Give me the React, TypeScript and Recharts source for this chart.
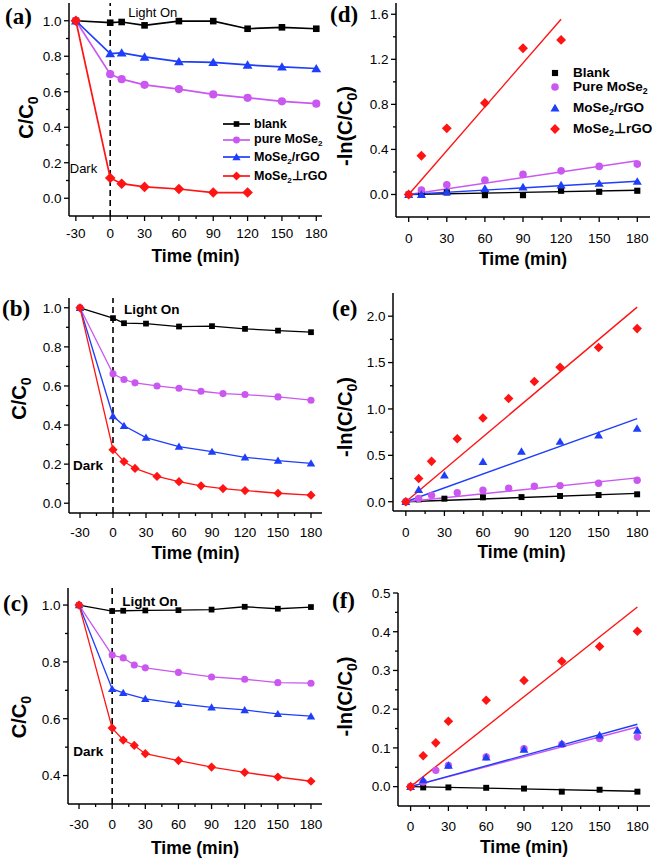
import React from "react";
import {
    ComposedChart,
    Line,
    Scatter,
    XAxis,
    YAxis,
    ReferenceLine,
    Legend
} from "recharts";

const FONT = "'Liberation Sans', Arial, Helvetica, sans-serif";
const SERIF = "'Liberation Serif', 'Times New Roman', serif";

const BLACK = "#000000";
const PURPLE = "#CA58F0";
const BLUE = "#1E3EFA";
const RED = "#FF1414";

type Shape = "square" | "circle" | "triangle" | "diamond";

const seriesColors = [BLACK, PURPLE, BLUE, RED];
const seriesShapes: Shape[] = ["square", "circle", "triangle", "diamond"];
const decayNames = ["blank", "pure MoSe_2", "MoSe_2/rGO", "MoSe_2\u22A5rGO"];
const rateNames = ["Blank", "Pure MoSe_2", "MoSe_2/rGO", "MoSe_2\u22A5rGO"];

// axis ticks
const decayXTicks = [-30, -15, 0, 15, 30, 45, 60, 75, 90, 105, 120, 135, 150, 165, 180];
const decayXMajor = [-30, 0, 30, 60, 90, 120, 150, 180];
const rateXTicks = [0, 15, 30, 45, 60, 75, 90, 105, 120, 135, 150, 165, 180];
const rateXMajor = [0, 30, 60, 90, 120, 150, 180];
const abYTicks = [0, 0.1, 0.2, 0.3, 0.4, 0.5, 0.6, 0.7, 0.8, 0.9, 1.0];
const abYMajor = [0, 0.2, 0.4, 0.6, 0.8, 1.0];
const cYTicks = [0.4, 0.5, 0.6, 0.7, 0.8, 0.9, 1.0];
const cYMajor = [0.4, 0.6, 0.8, 1.0];
const dYTicks = [0, 0.2, 0.4, 0.6, 0.8, 1.0, 1.2, 1.4, 1.6];
const dYMajor = [0, 0.4, 0.8, 1.2, 1.6];
const eYTicks = [0, 0.25, 0.5, 0.75, 1.0, 1.25, 1.5, 1.75, 2.0];
const eYMajor = [0, 0.5, 1.0, 1.5, 2.0];
const fYTicks = [0, 0.05, 0.1, 0.15, 0.2, 0.25, 0.3, 0.35, 0.4, 0.45, 0.5];
const fYMajor = [0, 0.1, 0.2, 0.3, 0.4, 0.5];

// (a) C/C0
const aTime = [-30, 0, 10, 30, 60, 90, 120, 150, 180];
const aTimeMix = [-30, 0, 10, 30, 60, 90, 120];
const aBlank = [1.0, 0.989, 0.993, 0.974, 0.998, 0.998, 0.955, 0.963, 0.955];
const aPure = [1.0, 0.699, 0.671, 0.639, 0.615, 0.585, 0.566, 0.546, 0.533];
const aRgo = [1.0, 0.815, 0.819, 0.796, 0.77, 0.766, 0.751, 0.74, 0.731];
const aMix = [1.0, 0.114, 0.082, 0.064, 0.052, 0.032, 0.032];

// (b) C/C0
const bTime = [-30, 0, 10, 30, 60, 90, 120, 150, 180];
const bTimeDense = [-30, 0, 10, 20, 40, 60, 80, 100, 120, 150, 180];
const bBlank = [1.0, 0.947, 0.921, 0.919, 0.904, 0.906, 0.892, 0.883, 0.875];
const bPure = [1.0, 0.662, 0.633, 0.616, 0.6, 0.588, 0.573, 0.561, 0.556, 0.544, 0.527];
const bRgo = [1.0, 0.446, 0.396, 0.336, 0.29, 0.264, 0.235, 0.218, 0.204];
const bMix = [1.0, 0.274, 0.213, 0.178, 0.137, 0.11, 0.089, 0.075, 0.065, 0.051, 0.041];

// (c) C/C0
const cTime = [-30, 0, 10, 30, 60, 90, 120, 150, 180];
const cTimeDense = [-30, 0, 10, 20, 30, 60, 90, 120, 150, 180];
const cBlank = [1.0, 0.979, 0.98, 0.981, 0.982, 0.984, 0.994, 0.987, 0.993];
const cPure = [1.0, 0.824, 0.814, 0.789, 0.779, 0.763, 0.747, 0.739, 0.727, 0.725];
const cRgo = [1.0, 0.705, 0.691, 0.67, 0.653, 0.64, 0.631, 0.617, 0.609];
const cMix = [1.0, 0.567, 0.525, 0.506, 0.477, 0.453, 0.43, 0.411, 0.395, 0.38];

// (d) -ln(C/C0)
const dTime = [0, 10, 30, 60, 90, 120, 150, 180];
const dTimeMix = [0, 10, 30, 60, 90, 120];
const dBlank = [0, 0.0, 0.018, -0.006, -0.006, 0.033, 0.024, 0.033];
const dPure = [0, 0.039, 0.086, 0.127, 0.178, 0.21, 0.249, 0.27];
const dRgo = [0, 0.0, 0.024, 0.053, 0.065, 0.083, 0.098, 0.116];
const dMix = [0, 0.344, 0.587, 0.812, 1.298, 1.372];
const dFitTime = [0, 180];
const dFitTimeMix = [0, 120];
const dFitBlank = [0, 0.038];
const dFitPure = [0, 0.3];
const dFitRgo = [0, 0.118];
const dFitMix = [0, 1.556];

// (e) -ln(C/C0)
const eTime = [0, 10, 30, 60, 90, 120, 150, 180];
const eTimeDense = [0, 10, 20, 40, 60, 80, 100, 120, 150, 180];
const eBlank = [0, 0.025, 0.033, 0.047, 0.05, 0.062, 0.072, 0.08];
const ePure = [0, 0.036, 0.069, 0.098, 0.123, 0.145, 0.167, 0.174, 0.199, 0.232];
const eRgo = [0, 0.13, 0.286, 0.431, 0.543, 0.649, 0.717, 0.79];
const eMix = [0, 0.25, 0.435, 0.678, 0.902, 1.112, 1.297, 1.449, 1.663, 1.866];
const eFitTime = [0, 180];
const eFitBlank = [0, 0.09];
const eFitPure = [0, 0.257];
const eFitRgo = [0, 0.895];
const eFitMix = [0, 2.098];

// (f) -ln(C/C0)
const fTime = [0, 10, 30, 60, 90, 120, 150, 180];
const fTimeDense = [0, 10, 20, 30, 60, 90, 120, 150, 180];
const fBlank = [0, -0.002, -0.002, -0.003, -0.005, -0.013, -0.008, -0.013];
const fPure = [0, 0.012, 0.042, 0.055, 0.077, 0.098, 0.109, 0.124, 0.128];
const fRgo = [0, 0.017, 0.055, 0.076, 0.096, 0.111, 0.133, 0.145];
const fMix = [0, 0.08, 0.113, 0.169, 0.223, 0.274, 0.324, 0.362, 0.401];
const fFitTime = [0, 180];
const fFitBlank = [0, -0.012];
const fFitPure = [0, 0.154];
const fFitRgo = [0, 0.161];
const fFitMix = [0, 0.464];

type Pt = { t: number; v: number };
type Series = { shape: Shape; color: string; data: Pt[] };

const pts = (t: number[], v: number[]): Pt[] =>
    t.map((x, i) => ({ t: x, v: v[i] }));

const mk = (idx: number, t: number[], v: number[]): Series => ({
    shape: seriesShapes[idx],
    color: seriesColors[idx],
    data: pts(t, v)
});

const isMajor = (v: number, majors: number[]) =>
    majors.some((m) => Math.abs(m - v) < 1e-9);

function Marker({ shape, cx, cy, color, k }: { shape: Shape; cx: number; cy: number; color: string; k: number }) {
    if (cx == null || cy == null) return null;
    if (shape === "square") {
        const s = 6.6 * k;
        return <rect x={cx - s / 2} y={cy - s / 2} width={s} height={s} fill={color} />;
    }
    if (shape === "circle") {
        return <circle cx={cx} cy={cy} r={4.1 * k} fill={color} />;
    }
    if (shape === "triangle") {
        const w = 4.9 * k;
        const h = 4.6 * k;
        return (
            <polygon
                points={`${cx},${cy - h} ${cx + w},${cy + h * 0.8} ${cx - w},${cy + h * 0.8}`}
                fill={color}
            />
        );
    }
    const d = 5.3 * k;
    return (
        <polygon
            points={`${cx},${cy - d} ${cx + d},${cy} ${cx},${cy + d} ${cx - d},${cy}`}
            fill={color}
        />
    );
}

function NameText({ name }: { name: string }) {
    const parts = name.split("_2");
    return (
        <>
            {parts.map((p, i) => (
                <React.Fragment key={i}>
                    {p}
                    {i < parts.length - 1 && (
                        <span style={{ fontSize: "0.65em", position: "relative", top: "0.35em" }}>2</span>
                    )}
                </React.Fragment>
            ))}
        </>
    );
}

type LegendSpec = {
    left: number;
    top: number;
    names: string[];
    withLine: boolean;
    fontSize: number;
    rowH: number;
    rowOffsets: number[];
    k: number;
};

function LegendBox({ spec }: { spec: LegendSpec }) {
    const sw = spec.withLine ? 27 : 12;
    const last = spec.rowOffsets[spec.rowOffsets.length - 1];
    return (
        <div
            style={{
                position: "relative",
                width: 120,
                height: last + spec.rowH,
                fontFamily: FONT,
                fontWeight: "bold",
                fontSize: spec.fontSize,
                color: "#000"
            }}
        >
            {spec.names.map((n, i) => (
                <div
                    key={n}
                    style={{
                        position: "absolute",
                        left: 0,
                        top: spec.rowOffsets[i],
                        display: "flex",
                        alignItems: "center",
                        height: spec.rowH
                    }}
                >
                    <svg width={sw} height={spec.rowH} style={{ flex: "none" }}>
                        {spec.withLine && (
                            <line
                                x1={0}
                                x2={sw}
                                y1={spec.rowH / 2}
                                y2={spec.rowH / 2}
                                stroke={seriesColors[i]}
                                strokeWidth={1.7}
                            />
                        )}
                        <Marker
                            shape={seriesShapes[i]}
                            cx={sw / 2}
                            cy={spec.rowH / 2}
                            color={seriesColors[i]}
                            k={spec.k}
                        />
                    </svg>
                    <span style={{ marginLeft: spec.withLine ? 4 : 12, lineHeight: 1, whiteSpace: "nowrap" }}>
                        <NameText name={n} />
                    </span>
                </div>
            ))}
        </div>
    );
}

type Marks = {
    bold: boolean;
    size: number;
    lightDx: number;
    lightDy: number;
    darkDx: number;
    darkDy: number;
};

type PanelProps = {
    box: { left: number; top: number; width: number; height: number };
    plot: { l: number; t: number; r: number; b: number };
    xDomain: number[];
    yDomain: number[];
    xTicks: number[];
    xMajor: number[];
    yTicks: number[];
    yMajor: number[];
    yDigits: number;
    lines?: Series[];
    points?: Series[];
    fits?: { color: string; data: Pt[] }[];
    k: number;
    lineW: number;
    yTitle: "C" | "ln";
    letter: string;
    letterDx: number;
    letterDy: number;
    xLabelDy: number;
    xTitleDy: number;
    yTitleDx: number;
    yTitleDy: number;
    marks?: Marks;
    legend?: LegendSpec;
};

function Panel(p: PanelProps) {
    const { box, plot } = p;
    const mt = plot.t - box.top;
    const yw = plot.l - box.left;
    const mr = box.left + box.width - plot.r;
    const xh = box.top + box.height - plot.b;
    const plotW = plot.r - plot.l;
    const plotH = plot.b - plot.t;
    const frame = { stroke: "#000", strokeWidth: 1.5 };

    const xTick = (tp: any) => {
        const v = tp.payload.value;
        const major = isMajor(v, p.xMajor);
        return (
            <g>
                <line x1={tp.x} x2={tp.x} y1={tp.y} y2={tp.y + (major ? 5 : 3)} stroke="#000" strokeWidth={1.3} />
                {major && (
                    <text
                        x={tp.x}
                        y={tp.y + p.xLabelDy}
                        dy="0.36em"
                        textAnchor="middle"
                        fontFamily={FONT}
                        fontSize={13.5}
                        fill="#000"
                    >
                        {String(v)}
                    </text>
                )}
            </g>
        );
    };

    const yTick = (tp: any) => {
        const v = tp.payload.value;
        const major = isMajor(v, p.yMajor);
        return (
            <g>
                <line x1={tp.x} x2={tp.x - (major ? 5 : 3)} y1={tp.y} y2={tp.y} stroke="#000" strokeWidth={1.3} />
                {major && (
                    <text
                        x={tp.x - 7.5}
                        y={tp.y}
                        dy="0.36em"
                        textAnchor="end"
                        fontFamily={FONT}
                        fontSize={13.5}
                        fill="#000"
                    >
                        {v.toFixed(p.yDigits)}
                    </text>
                )}
            </g>
        );
    };

    const xTitle = () => (
        <text
            x={yw + plotW / 2}
            y={mt + plotH + p.xTitleDy}
            dy="0.36em"
            textAnchor="middle"
            fontFamily={FONT}
            fontWeight="bold"
            fontSize={17.5}
            fill="#000"
        >
            Time (min)
        </text>
    );

    const yTitle = () => {
        const cx = yw + p.yTitleDx;
        const cy = mt + plotH / 2 + p.yTitleDy;
        return (
            <g>
                <text
                    x={cx}
                    y={cy}
                    dy="0.36em"
                    transform={`rotate(-90 ${cx} ${cy})`}
                    textAnchor="middle"
                    fontFamily={FONT}
                    fontWeight="bold"
                    fontSize={20}
                    fill="#000"
                >
                    {p.yTitle === "C" ? "C/C" : "-ln(C/C"}
                    <tspan fontSize={14} dy="5">0</tspan>
                    {p.yTitle === "ln" && <tspan dy="-5">)</tspan>}
                </text>
                <text
                    x={yw + p.letterDx}
                    y={mt + p.letterDy}
                    dy="0.34em"
                    fontFamily={SERIF}
                    fontWeight="bold"
                    fontSize={23}
                    fill="#000"
                >
                    {`(${p.letter})`}
                </text>
            </g>
        );
    };

    const marks = p.marks;
    const markLabel = (lp: any) => {
        if (!marks) return null;
        const lx = lp.viewBox ? lp.viewBox.x : 0;
        const style = {
            fontFamily: FONT,
            fontSize: marks.size,
            fontWeight: marks.bold ? "bold" : "normal",
            fill: "#000"
        } as const;
        return (
            <g>
                <text x={lx + marks.lightDx} y={mt + marks.lightDy} dy="0.36em" textAnchor="start" {...style}>
                    Light On
                </text>
                <text x={lx + marks.darkDx} y={mt + marks.darkDy} dy="0.36em" textAnchor="end" {...style}>
                    Dark
                </text>
            </g>
        );
    };

    return (
        <div style={{ position: "absolute", left: box.left, top: box.top }}>
            <ComposedChart
                width={box.width}
                height={box.height}
                margin={{ top: mt, right: mr, left: 0, bottom: 0 }}
            >
                <XAxis
                    dataKey="t"
                    type="number"
                    domain={p.xDomain}
                    ticks={p.xTicks}
                    interval={0}
                    allowDataOverflow
                    height={xh}
                    tickSize={0}
                    tickMargin={0}
                    tickLine={false}
                    tick={xTick}
                    axisLine={frame}
                    label={xTitle}
                />
                <XAxis
                    xAxisId="top"
                    orientation="top"
                    type="number"
                    domain={p.xDomain}
                    height={0}
                    tick={false}
                    tickLine={false}
                    axisLine={frame}
                />
                <YAxis
                    dataKey="v"
                    type="number"
                    domain={p.yDomain}
                    ticks={p.yTicks}
                    interval={0}
                    allowDataOverflow
                    width={yw}
                    tickSize={0}
                    tickMargin={0}
                    tickLine={false}
                    tick={yTick}
                    axisLine={frame}
                    label={yTitle}
                />
                <YAxis
                    yAxisId="right"
                    orientation="right"
                    type="number"
                    domain={p.yDomain}
                    width={0}
                    tick={false}
                    tickLine={false}
                    axisLine={frame}
                />
                {marks && (
                    <ReferenceLine
                        x={0}
                        stroke="#000"
                        strokeWidth={1.6}
                        strokeDasharray="6 4"
                        label={markLabel}
                    />
                )}
                {(p.lines || []).map((s, i) => (
                    <Line
                        key={`l${i}`}
                        data={s.data}
                        dataKey="v"
                        type="linear"
                        stroke={s.color}
                        strokeWidth={p.lineW}
                        dot={(dp: any) => (
                            <Marker
                                key={`m${i}-${dp.index}`}
                                shape={s.shape}
                                cx={dp.cx}
                                cy={dp.cy}
                                color={s.color}
                                k={p.k}
                            />
                        )}
                        activeDot={false}
                        isAnimationActive={false}
                    />
                ))}
                {(p.fits || []).map((f, i) => (
                    <Line
                        key={`f${i}`}
                        data={f.data}
                        dataKey="v"
                        type="linear"
                        stroke={f.color}
                        strokeWidth={1.4}
                        dot={false}
                        activeDot={false}
                        isAnimationActive={false}
                    />
                ))}
                {(p.points || []).map((s, i) => (
                    <Scatter
                        key={`s${i}`}
                        data={s.data}
                        fill={s.color}
                        shape={(sp: any) => (
                            <Marker shape={s.shape} cx={sp.cx} cy={sp.cy} color={s.color} k={p.k} />
                        )}
                        isAnimationActive={false}
                    />
                ))}
                {p.legend && (
                    <Legend
                        layout="vertical"
                        align="center"
                        verticalAlign="middle"
                        wrapperStyle={{ left: p.legend.left, top: p.legend.top, width: "auto", height: "auto" }}
                        content={() => <LegendBox spec={p.legend as LegendSpec} />}
                    />
                )}
            </ComposedChart>
        </div>
    );
}

export default function App() {
    return (
        <div
            style={{
                position: "absolute",
                left: 0,
                top: 0,
                width: 653,
                height: 861,
                background: "#ffffff",
                overflow: "hidden"
            }}
        >
            <Panel
                box={{ left: 0, top: 0, width: 330, height: 285 }}
                plot={{ l: 69, t: 3, r: 322, b: 216 }}
                xDomain={[-36, 185]}
                yDomain={[-0.1, 1.1]}
                xTicks={decayXTicks}
                xMajor={decayXMajor}
                yTicks={abYTicks}
                yMajor={abYMajor}
                yDigits={1}
                lines={[
                    mk(0, aTime, aBlank),
                    mk(1, aTime, aPure),
                    mk(2, aTime, aRgo),
                    mk(3, aTimeMix, aMix)
                ]}
                k={1}
                lineW={1.7}
                yTitle="C"
                letter="a"
                letterDx={-64}
                letterDy={13}
                xLabelDy={16.7}
                xTitleDy={40}
                yTitleDx={-43}
                yTitleDy={8}
                marks={{ bold: false, size: 13, lightDx: 18, lightDy: 9, darkDx: -13, darkDy: 165 }}
                legend={{
                    left: 223,
                    top: 116,
                    names: decayNames,
                    withLine: true,
                    fontSize: 12.5,
                    rowH: 16,
                    rowOffsets: [0, 15.7, 33.4, 52.4],
                    k: 0.85
                }}
            />
            <Panel
                box={{ left: 330, top: 0, width: 323, height: 285 }}
                plot={{ l: 396, t: 3, r: 650, b: 217 }}
                xDomain={[-10, 190]}
                yDomain={[-0.2, 1.7]}
                xTicks={rateXTicks}
                xMajor={rateXMajor}
                yTicks={dYTicks}
                yMajor={dYMajor}
                yDigits={1}
                points={[
                    mk(0, dTime, dBlank),
                    mk(1, dTime, dPure),
                    mk(2, dTime, dRgo),
                    mk(3, dTimeMix, dMix)
                ]}
                fits={[
                    { color: BLACK, data: pts(dFitTime, dFitBlank) },
                    { color: PURPLE, data: pts(dFitTime, dFitPure) },
                    { color: BLUE, data: pts(dFitTime, dFitRgo) },
                    { color: RED, data: pts(dFitTimeMix, dFitMix) }
                ]}
                k={0.93}
                lineW={1.4}
                yTitle="ln"
                letter="d"
                letterDx={-66}
                letterDy={11}
                xLabelDy={21.6}
                xTitleDy={41.6}
                yTitleDx={-51}
                yTitleDy={16}
                legend={{
                    left: 219,
                    top: 63.7,
                    names: rateNames,
                    withLine: false,
                    fontSize: 13.5,
                    rowH: 18,
                    rowOffsets: [0, 14, 35, 56.3],
                    k: 0.93
                }}
            />
            <Panel
                box={{ left: 0, top: 285, width: 330, height: 286 }}
                plot={{ l: 69, t: 298, r: 322, b: 513 }}
                xDomain={[-40, 190]}
                yDomain={[-0.05, 1.05]}
                xTicks={decayXTicks}
                xMajor={decayXMajor}
                yTicks={abYTicks}
                yMajor={abYMajor}
                yDigits={1}
                lines={[
                    mk(0, bTime, bBlank),
                    mk(1, bTimeDense, bPure),
                    mk(2, bTime, bRgo),
                    mk(3, bTimeDense, bMix)
                ]}
                k={0.87}
                lineW={1.3}
                yTitle="C"
                letter="b"
                letterDx={-67}
                letterDy={10.5}
                xLabelDy={19}
                xTitleDy={39.5}
                yTitleDx={-50}
                yTitleDy={-7}
                marks={{ bold: true, size: 13.5, lightDx: 11, lightDy: 11.3, darkDx: -10, darkDy: 167 }}
            />
            <Panel
                box={{ left: 330, top: 285, width: 323, height: 286 }}
                plot={{ l: 393, t: 293, r: 650, b: 511 }}
                xDomain={[-10, 190]}
                yDomain={[-0.1, 2.25]}
                xTicks={rateXTicks}
                xMajor={rateXMajor}
                yTicks={eYTicks}
                yMajor={eYMajor}
                yDigits={1}
                points={[
                    mk(0, eTime, eBlank),
                    mk(1, eTimeDense, ePure),
                    mk(2, eTime, eRgo),
                    mk(3, eTimeDense, eMix)
                ]}
                fits={[
                    { color: BLACK, data: pts(eFitTime, eFitBlank) },
                    { color: PURPLE, data: pts(eFitTime, eFitPure) },
                    { color: BLUE, data: pts(eFitTime, eFitRgo) },
                    { color: RED, data: pts(eFitTime, eFitMix) }
                ]}
                k={0.9}
                lineW={1.4}
                yTitle="ln"
                letter="e"
                letterDx={-61}
                letterDy={15.5}
                xLabelDy={21}
                xTitleDy={41}
                yTitleDx={-48}
                yTitleDy={15}
            />
            <Panel
                box={{ left: 0, top: 571, width: 330, height: 290 }}
                plot={{ l: 68, t: 588, r: 322, b: 804 }}
                xDomain={[-40, 190]}
                yDomain={[0.3, 1.06]}
                xTicks={decayXTicks}
                xMajor={decayXMajor}
                yTicks={cYTicks}
                yMajor={cYMajor}
                yDigits={1}
                lines={[
                    mk(0, cTime, cBlank),
                    mk(1, cTimeDense, cPure),
                    mk(2, cTime, cRgo),
                    mk(3, cTimeDense, cMix)
                ]}
                k={0.87}
                lineW={1.3}
                yTitle="C"
                letter="c"
                letterDx={-65}
                letterDy={15.5}
                xLabelDy={20}
                xTitleDy={43.5}
                yTitleDx={-49}
                yTitleDy={21}
                marks={{ bold: true, size: 13.5, lightDx: 10, lightDy: 13, darkDx: -9, darkDy: 163 }}
            />
            <Panel
                box={{ left: 330, top: 571, width: 323, height: 290 }}
                plot={{ l: 398, t: 593, r: 650, b: 806 }}
                xDomain={[-10, 190]}
                yDomain={[-0.05, 0.5]}
                xTicks={rateXTicks}
                xMajor={rateXMajor}
                yTicks={fYTicks}
                yMajor={fYMajor}
                yDigits={1}
                points={[
                    mk(0, fTime, fBlank),
                    mk(1, fTimeDense, fPure),
                    mk(2, fTime, fRgo),
                    mk(3, fTimeDense, fMix)
                ]}
                fits={[
                    { color: BLACK, data: pts(fFitTime, fFitBlank) },
                    { color: PURPLE, data: pts(fFitTime, fFitPure) },
                    { color: BLUE, data: pts(fFitTime, fFitRgo) },
                    { color: RED, data: pts(fFitTime, fFitMix) }
                ]}
                k={0.9}
                lineW={1.4}
                yTitle="ln"
                letter="f"
                letterDx={-66}
                letterDy={7}
                xLabelDy={20}
                xTitleDy={41}
                yTitleDx={-53}
                yTitleDy={-3}
            />
        </div>
    );
}
